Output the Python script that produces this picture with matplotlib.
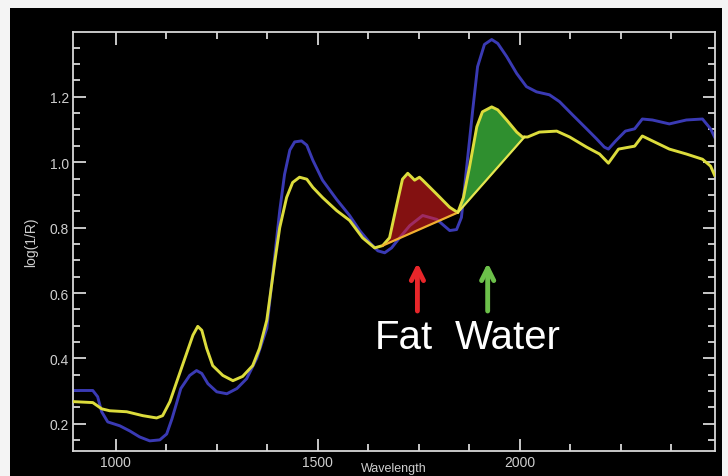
import matplotlib
matplotlib.use("Agg")
import matplotlib.pyplot as plt
import numpy as np
from matplotlib.patches import Rectangle
from matplotlib.ticker import MultipleLocator

# spectra (wavelength in nm, log(1/R))
wl_blue = [894, 943, 955, 965, 980, 1010, 1035, 1059, 1084, 1109, 1126, 1139,
           1151, 1161, 1183, 1200, 1213, 1228, 1250, 1275, 1300, 1324, 1349,
           1374, 1394, 1406, 1418, 1431, 1443, 1460, 1473, 1488, 1512, 1547,
           1579, 1604, 1629, 1649, 1666, 1683, 1703, 1728, 1760, 1795, 1827,
           1844, 1856, 1869, 1884, 1896, 1913, 1931, 1946, 1968, 1993, 2017,
           2042, 2074, 2099, 2131, 2166, 2191, 2210, 2220, 2238, 2262, 2285,
           2304, 2329, 2371, 2413, 2453, 2473, 2483]
blue = [0.302, 0.302, 0.283, 0.237, 0.206, 0.194, 0.178, 0.160, 0.148, 0.151,
        0.169, 0.215, 0.265, 0.308, 0.348, 0.363, 0.354, 0.323, 0.298, 0.292,
        0.308, 0.338, 0.400, 0.492, 0.717, 0.852, 0.963, 1.037, 1.062, 1.065,
        1.052, 1.006, 0.945, 0.886, 0.837, 0.791, 0.754, 0.729, 0.723, 0.738,
        0.769, 0.806, 0.837, 0.825, 0.791, 0.794, 0.831, 0.985, 1.160, 1.292,
        1.360, 1.375, 1.363, 1.323, 1.271, 1.231, 1.215, 1.206, 1.185, 1.145,
        1.102, 1.071, 1.046, 1.040, 1.065, 1.095, 1.102, 1.132, 1.129, 1.117,
        1.129, 1.132, 1.102, 1.077]

wl_yellow = [894, 943, 965, 985, 1027, 1067, 1101, 1116, 1134, 1151, 1171,
             1191, 1203, 1213, 1225, 1240, 1265, 1290, 1314, 1339, 1356, 1374,
             1394, 1406, 1423, 1438, 1455, 1473, 1488, 1512, 1547, 1579, 1611,
             1641, 1661, 1678, 1696, 1710, 1723, 1733, 1740, 1752, 1760, 1795,
             1827, 1847, 1861, 1876, 1894, 1908, 1931, 1946, 1968, 1993, 2007,
             2020, 2049, 2092, 2124, 2166, 2198, 2220, 2245, 2285, 2304, 2329,
             2371, 2413, 2453, 2473, 2483]
yellow = [0.268, 0.265, 0.246, 0.240, 0.237, 0.225, 0.218, 0.225, 0.268, 0.329,
          0.400, 0.471, 0.498, 0.486, 0.431, 0.378, 0.348, 0.332, 0.345, 0.378,
          0.431, 0.517, 0.698, 0.800, 0.892, 0.938, 0.954, 0.948, 0.923, 0.892,
          0.852, 0.822, 0.769, 0.738, 0.745, 0.769, 0.871, 0.948, 0.966, 0.954,
          0.945, 0.954, 0.945, 0.902, 0.862, 0.846, 0.892, 0.985, 1.108, 1.154,
          1.169, 1.160, 1.129, 1.092, 1.077, 1.077, 1.092, 1.095, 1.077, 1.046,
          1.025, 0.997, 1.040, 1.049, 1.080, 1.065, 1.040, 1.025, 1.009, 0.988,
          0.960]

# band limits (nm) for the shaded areas
fat_band = [1661, 1847]
water_band = [1847, 2012]
band_labels = ["Fat", "Water"]
arrow_x = [1747, 1921]
label_x = [1641, 1839]

wl_blue = np.array(wl_blue)
blue = np.array(blue)
wl_yellow = np.array(wl_yellow)
yellow = np.array(yellow)

fig = plt.figure(figsize=(7.28, 4.77), dpi=100, facecolor="#f4f4f4")
fig.patches.append(Rectangle((10 / 728, 0), 712 / 728, 468 / 477,
                             transform=fig.transFigure, facecolor="black",
                             edgecolor="none", zorder=-10))
ax = fig.add_axes([73 / 728, 25 / 477, 642 / 728, 419 / 477])
ax.set_facecolor("black")

ax.plot(wl_blue, blue, color="#3a3ab4", lw=2.1, zorder=2,
        solid_joinstyle="round")


def band(lo, hi):
    inside = (wl_yellow > lo) & (wl_yellow < hi)
    xs = np.concatenate([[lo], wl_yellow[inside], [hi]])
    ys = np.interp(xs, wl_yellow, yellow)
    base = np.interp(xs, [lo, hi], [ys[0], ys[-1]])
    return xs, ys, base


xs, ys, base = band(*fat_band)
ax.fill_between(xs, base, ys, color="#f02020", alpha=0.55, lw=0, zorder=3)
ax.plot(xs, base, color="#f0b030", lw=1.6, zorder=5)

xs, ys, base = band(*water_band)
ax.fill_between(xs, base, ys, color="#3cb43c", alpha=0.8, lw=0, zorder=3)
ax.plot(xs, base, color="#e6e650", lw=1.6, zorder=5)

ax.plot(wl_yellow, yellow, color="#dcdc3c", lw=2.1, zorder=4,
        solid_joinstyle="round")

for x, c in zip(arrow_x, ["#e8262a", "#6cc04a"]):
    ax.annotate("", xy=(x, 0.692), xytext=(x, 0.545),
                arrowprops=dict(arrowstyle="->", color=c, lw=3.5,
                                mutation_scale=22, shrinkA=0, shrinkB=0))

for x, t in zip(label_x, band_labels):
    ax.text(x, 0.431, t, color="white", fontsize=29,
            family="Liberation Sans", ha="left", va="baseline")

ax.set_xlim(894, 2484)
ax.set_ylim(0.117, 1.398)
ax.xaxis.set_major_locator(MultipleLocator(500))
ax.xaxis.set_minor_locator(MultipleLocator(125))
ax.yaxis.set_major_locator(MultipleLocator(0.2))
ax.yaxis.set_minor_locator(MultipleLocator(0.05))
ax.yaxis.set_major_formatter(plt.FuncFormatter(lambda v, p: f"{v:.1f}"))

for s in ax.spines.values():
    s.set_color("#d8d8d8")
    s.set_linewidth(1.3)
ax.tick_params(which="both", direction="in", top=True, right=True,
               colors="#d8d8d8", width=1.3, labelcolor="#cfcfcf",
               labelsize=10)
ax.tick_params(which="major", length=9, pad=3)
ax.tick_params(which="minor", length=5)
for lab in ax.get_xticklabels() + ax.get_yticklabels():
    lab.set_family("Liberation Sans")

ax.set_xlabel("Wavelength", color="#cfcfcf", fontsize=9,
              family="Liberation Sans", labelpad=-5)
ax.set_ylabel("log(1/R)", color="#cfcfcf", fontsize=10,
              family="Liberation Sans", labelpad=8)

fig.savefig("out.png", dpi=100, facecolor=fig.get_facecolor())
